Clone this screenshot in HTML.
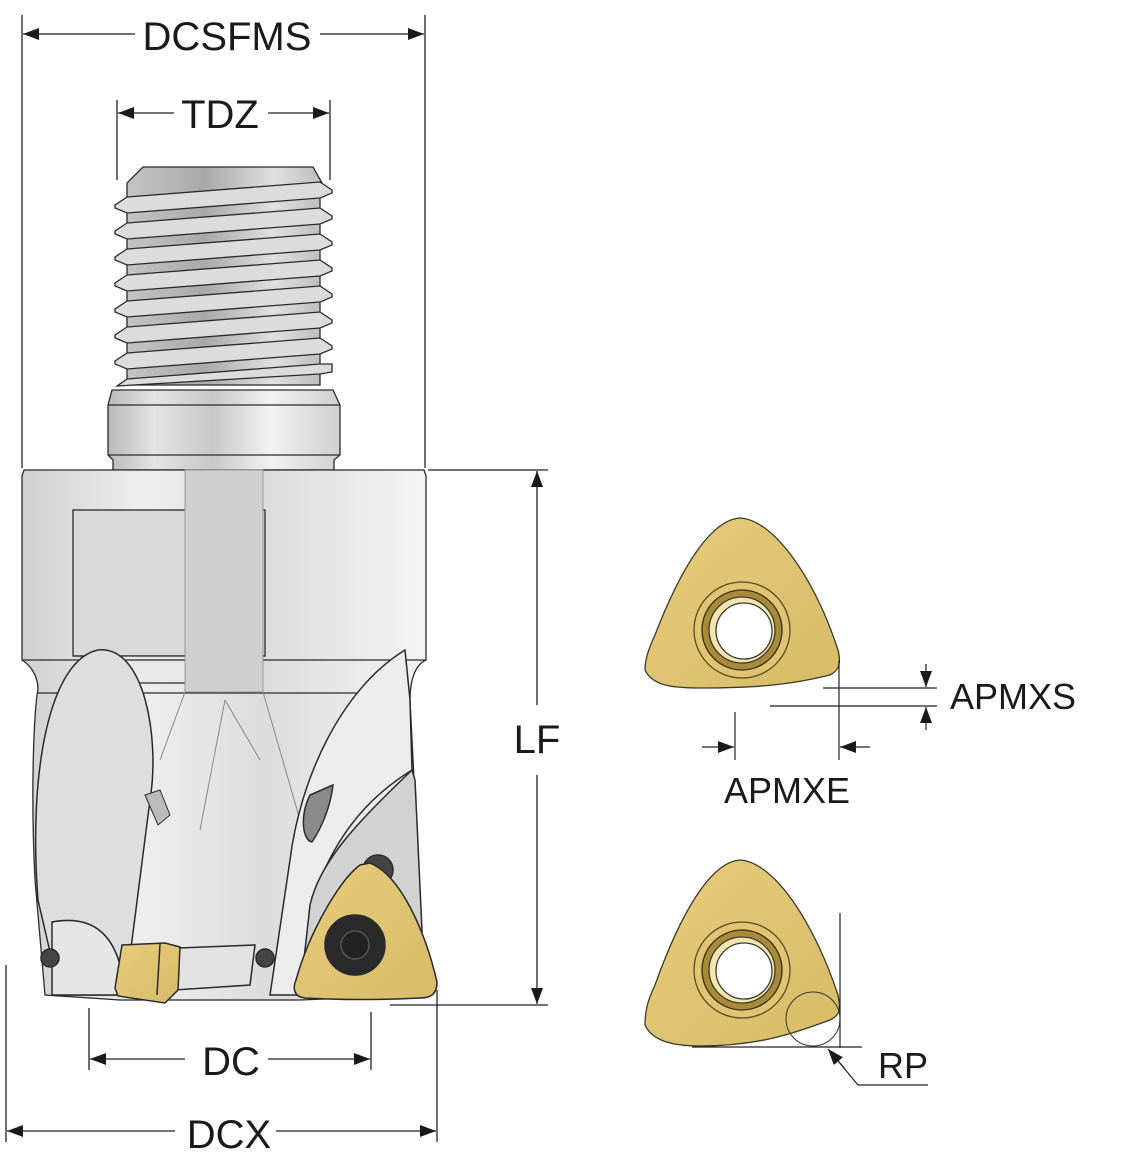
<!DOCTYPE html>
<html><head><meta charset="utf-8"><style>
html,body{margin:0;padding:0;background:#fff;}
svg{display:block;}
text{font-family:"Liberation Sans",Arial,sans-serif;fill:#1a1a1a;}
</style></head><body>
<svg width="1126" height="1166" viewBox="0 0 1126 1166" xmlns="http://www.w3.org/2000/svg">
<defs>
<linearGradient id="steel" x1="0" x2="1" y1="0" y2="0">
<stop offset="0" stop-color="#b9b9b9"/><stop offset="0.2" stop-color="#e4e4e4"/><stop offset="0.45" stop-color="#c8c8c8"/><stop offset="0.7" stop-color="#f2f2f2"/><stop offset="1" stop-color="#cfcfcf"/>
</linearGradient>
<linearGradient id="steel2" x1="0" x2="1" y1="0" y2="0">
<stop offset="0" stop-color="#d0d0d0"/><stop offset="0.3" stop-color="#eeeeee"/><stop offset="0.6" stop-color="#dcdcdc"/><stop offset="1" stop-color="#f4f4f4"/>
</linearGradient>
<linearGradient id="thread" x1="0" x2="1">
<stop offset="0" stop-color="#c4c4c4"/><stop offset="0.4" stop-color="#a9a9a9"/><stop offset="0.75" stop-color="#e0e0e0"/><stop offset="1" stop-color="#bdbdbd"/>
</linearGradient>
<linearGradient id="gold" x1="0" x2="1" y1="0" y2="1">
<stop offset="0" stop-color="#e6cc7c"/><stop offset="1" stop-color="#d7bb68"/>
</linearGradient>
<marker id="ar" viewBox="0 0 16 12" refX="16" refY="6" markerWidth="16" markerHeight="12" markerUnits="userSpaceOnUse" orient="auto"><path d="M0,0 L16,6 L0,12 Z" fill="#1a1a1a"/></marker>
</defs>

<g stroke="#222" stroke-width="1.3" fill="none">
<line x1="22" y1="15" x2="22" y2="468"/>
<line x1="425" y1="15" x2="425" y2="468"/>
<line x1="117" y1="100" x2="117" y2="180"/>
<line x1="330" y1="100" x2="330" y2="180"/>
<line x1="135" y1="34" x2="23" y2="34" marker-end="url(#ar)"/>
<line x1="320" y1="34" x2="424" y2="34" marker-end="url(#ar)"/>
<line x1="174" y1="113" x2="118" y2="113" marker-end="url(#ar)"/>
<line x1="268" y1="113" x2="329" y2="113" marker-end="url(#ar)"/>
<line x1="428" y1="470" x2="548" y2="470"/>
<line x1="390" y1="1005" x2="548" y2="1005"/>
<line x1="537" y1="705" x2="537" y2="471" marker-end="url(#ar)"/>
<line x1="537" y1="775" x2="537" y2="1004" marker-end="url(#ar)"/>
<line x1="89" y1="1008" x2="89" y2="1070"/>
<line x1="371" y1="1012" x2="371" y2="1070"/>
<line x1="6" y1="965" x2="6" y2="1142"/>
<line x1="437" y1="990" x2="437" y2="1142"/>
<line x1="185" y1="1059" x2="90" y2="1059" marker-end="url(#ar)"/>
<line x1="268" y1="1059" x2="370" y2="1059" marker-end="url(#ar)"/>
<line x1="175" y1="1131" x2="7" y2="1131" marker-end="url(#ar)"/>
<line x1="276" y1="1131" x2="436" y2="1131" marker-end="url(#ar)"/>
</g>
<text x="227" y="50" font-size="40" text-anchor="middle">DCSFMS</text>
<text x="220" y="128" font-size="40" text-anchor="middle">TDZ</text>
<text x="537" y="753" font-size="40" text-anchor="middle">LF</text>
<text x="231" y="1075" font-size="40" text-anchor="middle">DC</text>
<text x="229" y="1148" font-size="40" text-anchor="middle">DCX</text>

<!-- Thread shank -->
<g stroke="#2a2a2a" stroke-width="1.3">
<path d="M143,167 L313,167 L322,183 L320,190 L320,385 L127,385 L127,190 L127,183 Z" fill="url(#thread)"/>
<g fill="#dcdcdc">
<path d="M127,197 L115,205 L115,208 L127,213 L320,198 L332,193 L332,190 L320,182 Z"/>
<path d="M127,223 L115,231 L115,234 L127,239 L320,224 L332,219 L332,216 L320,208 Z"/>
<path d="M127,249 L115,257 L115,260 L127,265 L320,250 L332,245 L332,242 L320,234 Z"/>
<path d="M127,275 L115,283 L115,286 L127,291 L320,276 L332,271 L332,268 L320,260 Z"/>
<path d="M127,301 L115,309 L115,312 L127,317 L320,302 L332,297 L332,294 L320,286 Z"/>
<path d="M127,327 L115,335 L115,338 L127,343 L320,328 L332,323 L332,320 L320,312 Z"/>
<path d="M127,353 L115,361 L115,364 L127,369 L320,354 L332,349 L332,346 L320,338 Z"/>
<path d="M127,379 L117,386 L320,374 L332,372 L332,364 L320,364 Z"/>
</g>
<path d="M112,390 L333,390 L340,405 L340,455 L334,460 L334,470 L113,470 L113,460 L108,455 L108,405 Z" fill="url(#steel)"/>
<line x1="108" y1="405" x2="340" y2="405"/>
<line x1="108" y1="455" x2="340" y2="455"/>
</g>

<!-- Body -->
<g stroke="#2a2a2a" stroke-width="1.3">
<path d="M24,470 L424,470 L426,476 L426,660 C415,665 410,680 410,700 L425,995 L300,1000 L120,1000 L45,995 L35,880 C30,780 35,700 38,690 C38,675 30,665 22,660 L22,476 Z" fill="url(#steel2)"/>
<rect x="73" y="510" width="192" height="146" fill="#d9d9d9"/>
<path d="M73,656 L105,656 C115,660 120,675 120,683 L225,683 C230,665 250,656 265,656 Z" fill="#e8e8e8"/>
<line x1="22" y1="660" x2="426" y2="660"/>
<line x1="38" y1="693" x2="410" y2="693"/>
</g>
<g stroke="#888" stroke-width="1" fill="none">
<rect x="185" y="470" width="78" height="222" fill="#cfcfcf" stroke="#999"/>
<path d="M185,692 L160,760 M263,692 L300,820 M225,700 L200,830 M225,700 L260,760"/>
</g>
<g stroke="#2a2a2a" stroke-width="1.5">
<path d="M38,900 C28,770 50,660 98,650 C145,645 160,740 150,800 L125,995 L60,995 Z" fill="#dedede"/>
<path d="M52,922 C90,915 120,930 125,995 L52,995 Z" fill="#e6e6e6"/>
<path d="M405,650 C340,690 300,780 290,860 L270,995 L300,995 L320,880 C345,820 380,790 412,770 L410,700 Z" fill="#ececec"/>
<path d="M412,770 C360,820 320,860 310,905 L300,995 L425,995 L415,780 Z" fill="#d2d2d2"/>
<path d="M310,795 L333,785 C330,810 320,830 312,842 C302,840 300,815 310,795 Z" fill="#8a8a8a"/>
<path d="M145,795 L160,790 L170,815 L158,825 Z" fill="#bbb" stroke-width="1"/>
<path d="M178,948 L255,945 L250,985 L175,990 Z" fill="#e2e2e2"/>
<circle cx="50" cy="958" r="9" fill="#444"/>
<circle cx="265" cy="958" r="9" fill="#444"/>
<path d="M122,945 L165,943 L180,947 L178,990 L165,1003 L118,996 L115,988 Z" fill="url(#gold)"/>
<line x1="160" y1="944" x2="157" y2="995"/>
<circle cx="378" cy="870" r="15" fill="#444"/>
<path d="M370,863 C400,875 425,930 437,982 C437,995 430,998 420,998 C380,1000 340,1000 305,998 C295,997 292,990 296,980 C310,930 340,880 360,865 Z" fill="url(#gold)"/>
<circle cx="355" cy="945" r="30" fill="#2a2a2a"/>
<circle cx="355" cy="945" r="14" fill="#222" stroke="#555"/>
</g>

<!-- Insert 1 -->
<g stroke="#3a3a2a" stroke-width="1.3">
<path d="M740,518 C775,520 815,580 838,650 C841,662 840,670 830,675 C790,685 755,688 700,688 C670,688 652,685 645,670 C645,660 648,650 655,635 C680,570 710,520 740,518 Z" fill="url(#gold)"/>
<circle cx="742" cy="630" r="48" fill="#e0c472" stroke="#5a4a20"/>
<circle cx="742" cy="630" r="40" fill="#a88a3a" stroke="#3a2e10"/>
<circle cx="742" cy="630" r="33" fill="#f4e4b0"/>
<circle cx="744" cy="631" r="28" fill="#fff"/>
</g>
<!-- Insert 2 -->
<g stroke="#3a3a2a" stroke-width="1.3">
<path d="M740,860 C775,862 815,925 838,995 C841,1010 840,1015 830,1020 C790,1035 755,1046 700,1046 C670,1046 652,1040 645,1025 C645,1010 648,1000 655,985 C680,915 710,862 740,860 Z" fill="url(#gold)"/>
<circle cx="742" cy="970" r="48" fill="#e0c472" stroke="#5a4a20"/>
<circle cx="742" cy="970" r="40" fill="#a88a3a" stroke="#3a2e10"/>
<circle cx="742" cy="970" r="33" fill="#f4e4b0"/>
<circle cx="744" cy="971" r="28" fill="#fff"/>
<circle cx="813" cy="1019" r="27" fill="none" stroke-width="1"/>
</g>
<g stroke="#222" stroke-width="1.2" fill="none">
<line x1="823" y1="688" x2="937" y2="688"/>
<line x1="770" y1="706" x2="937" y2="706"/>
<line x1="926" y1="664" x2="926" y2="687" marker-end="url(#ar)"/>
<line x1="926" y1="730" x2="926" y2="707" marker-end="url(#ar)"/>
<line x1="735" y1="712" x2="735" y2="760"/>
<line x1="839" y1="660" x2="839" y2="760"/>
<line x1="702" y1="747" x2="734" y2="747" marker-end="url(#ar)"/>
<line x1="870" y1="747" x2="840" y2="747" marker-end="url(#ar)"/>
<line x1="840" y1="913" x2="840" y2="1048"/>
<line x1="692" y1="1047" x2="862" y2="1047"/>
<polyline points="928,1085 858,1085 829,1050"/>
<line x1="845" y1="1069" x2="828" y2="1049" marker-end="url(#ar)"/>
</g>
<text x="950" y="709" font-size="36">APMXS</text>
<text x="787" y="803" font-size="36" text-anchor="middle">APMXE</text>
<text x="878" y="1078" font-size="36">RP</text>
</svg>
</body></html>
